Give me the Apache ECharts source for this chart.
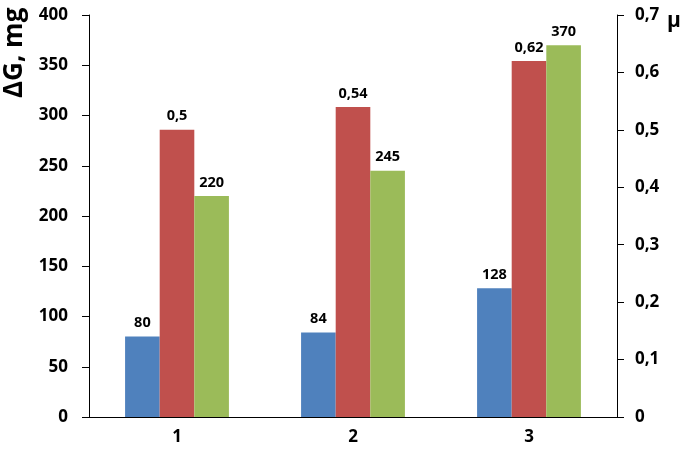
<!DOCTYPE html>
<html><head><meta charset="utf-8">
<script src="https://cdn.jsdelivr.net/npm/echarts@6/dist/echarts.min.js"></script>
<style>html,body{margin:0;padding:0;background:#fff}#c{width:685px;height:455px}</style>
</head><body><div id="c"></div>
<script>
var categories = ['1', '2', '3'];
var blueValues = [80, 84, 128];
var redValues = [0.5, 0.54, 0.62];
var greenValues = [220, 245, 370];
var leftTicks = [0, 50, 100, 150, 200, 250, 300, 350, 400];
var rightTicks = [0, 0.1, 0.2, 0.3, 0.4, 0.5, 0.6, 0.7];

var FONT = '"Open Sans"';
var chart = echarts.init(document.getElementById('c'));
function comma(v){ return String(v).replace('.', ','); }
var lbl = {show:true, position:'top', distance:6, color:'#000', fontFamily:FONT, fontWeight:'bold', fontSize:14.5};
chart.setOption({
  animation:false,
  grid:{left:89, right:68, top:15, bottom:38},
  xAxis:[{
    type:'category', data:categories,
    axisLine:{lineStyle:{color:'#000', width:1}},
    axisTick:{show:false},
    axisLabel:{color:'#000', fontFamily:FONT, fontWeight:'bold', fontSize:17, margin:12}
  },{
    type:'category', data:categories, position:'top',
    axisLine:{lineStyle:{color:'#000', width:1}},
    axisTick:{show:false}, axisLabel:{show:false}
  }],
  yAxis:[{
    type:'value', min:leftTicks[0], max:leftTicks[leftTicks.length-1], interval:50,
    axisLine:{show:true, lineStyle:{color:'#000', width:1}},
    axisTick:{show:true, length:7, lineStyle:{color:'#000'}},
    splitLine:{show:false},
    axisLabel:{color:'#000', fontFamily:FONT, fontWeight:'bold', fontSize:17, margin:21}
  },{
    type:'value', min:rightTicks[0], max:rightTicks[rightTicks.length-1], interval:0.1, position:'right',
    axisLine:{show:true, lineStyle:{color:'#000', width:1}},
    axisTick:{show:true, length:7, lineStyle:{color:'#000'}},
    splitLine:{show:false},
    axisLabel:{color:'#000', fontFamily:FONT, fontWeight:'bold', fontSize:17, margin:18,
      formatter:function(v){ return comma(Math.round(v*10)/10); }}
  }],
  series:[
    {type:'bar', data:blueValues, yAxisIndex:0, barGap:'0%', barCategoryGap:'41%',
     itemStyle:{color:'#4F81BD'}, label:lbl},
    {type:'bar', data:redValues, yAxisIndex:1, barGap:'0%', barCategoryGap:'41%',
     itemStyle:{color:'#C0504D'}, label:Object.assign({}, lbl, {formatter:function(p){return comma(p.value);}})},
    {type:'bar', data:greenValues, yAxisIndex:0, barGap:'0%', barCategoryGap:'41%',
     itemStyle:{color:'#9BBB59'}, label:lbl}
  ],
  graphic:[
    {type:'text', x:2, y:98, rotation:Math.PI/2, originX:0, originY:0,
     style:{text:'ΔG, mg', fill:'#000', font:'bold 26px '+FONT, textAlign:'left', textVerticalAlign:'top'}},
    {type:'text', x:667, y:21,
     style:{text:'μ', fill:'#000', font:'bold 21px '+FONT, textVerticalAlign:'middle'}}
  ]
});
</script></body></html>
